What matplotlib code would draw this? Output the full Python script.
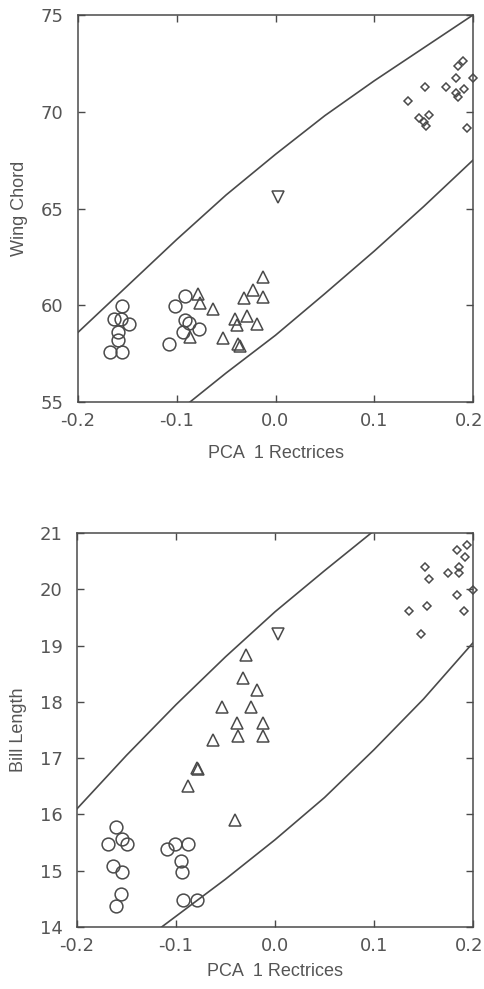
import matplotlib
matplotlib.use("Agg")
import matplotlib.pyplot as plt
from matplotlib.transforms import ScaledTranslation

plt.rcParams['font.family'] = ['Liberation Sans', 'DejaVu Sans']
plt.rcParams['axes.unicode_minus'] = False

# ---------------- data: top panel (Wing Chord) ----------------
top_circle_x = [-0.155, -0.1635, -0.156, -0.148, -0.159, -0.159, -0.1676, -0.155,
                -0.092, -0.1018, -0.0916, -0.0878, -0.0777, -0.094, -0.108]
top_circle_y = [59.98, 59.3, 59.3, 59.05, 58.6, 58.2, 57.57, 57.57,
                60.5, 59.98, 59.25, 59.07, 58.76, 58.6, 57.98]
top_tri_x = [-0.0788, -0.0765, -0.063, -0.0866, -0.0529, -0.041, -0.0387, -0.0377,
             -0.036, -0.0322, -0.0291, -0.0232, -0.0123, -0.0123, -0.0184]
top_tri_y = [60.57, 60.1, 59.8, 58.38, 58.33, 59.27, 58.98, 57.98,
             57.9, 60.38, 59.42, 60.78, 61.48, 60.44, 59.02]
top_inv_x = [0.0025]
top_inv_y = [65.6]
top_dia_x = [0.190, 0.1848, 0.183, 0.1998, 0.151, 0.173, 0.191, 0.1825,
             0.185, 0.1339, 0.1558, 0.1458, 0.1507, 0.1527, 0.1937]
top_dia_y = [72.6, 72.34, 71.77, 71.77, 71.28, 71.28, 71.17, 70.99,
             70.77, 70.58, 69.83, 69.66, 69.46, 69.27, 69.18]
top_upper_x = [-0.2, -0.15, -0.1, -0.05, 0.0, 0.05, 0.1, 0.15, 0.2]
top_upper_y = [58.6, 61.0, 63.4, 65.7, 67.8, 69.8, 71.6, 73.3, 75.0]
top_lower_x = [-0.0866, -0.05, 0.0, 0.05, 0.1, 0.15, 0.2]
top_lower_y = [55.0, 56.5, 58.45, 60.6, 62.8, 65.1, 67.5]

# ---------------- data: bottom panel (Bill Length) ----------------
bot_circle_x = [-0.1606, -0.1684, -0.155, -0.1491, -0.1635, -0.155, -0.1555, -0.1611,
                -0.1092, -0.1015, -0.0881, -0.0948, -0.0938, -0.0926, -0.0788]
bot_circle_y = [15.77, 15.48, 15.57, 15.47, 15.075, 14.975, 14.58, 14.375,
                15.38, 15.475, 15.475, 15.175, 14.975, 14.475, 14.475]
bot_tri_x = [-0.0293, -0.032, -0.0185, -0.0539, -0.0242, -0.0387, -0.0118, -0.0371,
             -0.0118, -0.063, -0.0785, -0.0775, -0.0876, -0.0404]
bot_tri_y = [18.83, 18.42, 18.21, 17.91, 17.91, 17.62, 17.62, 17.40,
             17.40, 17.32, 16.82, 16.80, 16.51, 15.90]
bot_inv_x = [0.0034]
bot_inv_y = [19.21]
bot_dia_x = [0.1943, 0.1835, 0.1919, 0.1862, 0.152, 0.1559, 0.1744, 0.1859,
             0.1997, 0.184, 0.1537, 0.1354, 0.191, 0.1471]
bot_dia_y = [20.79, 20.69, 20.58, 20.40, 20.40, 20.19, 20.29, 20.29,
             19.99, 19.90, 19.70, 19.61, 19.61, 19.21]
bot_upper_x = [-0.2, -0.15, -0.1, -0.05, 0.0, 0.05, 0.1]
bot_upper_y = [16.1, 17.05, 17.95, 18.8, 19.6, 20.33, 21.04]
bot_lower_x = [-0.1145, -0.05, 0.0, 0.05, 0.1, 0.15, 0.2]
bot_lower_y = [14.0, 14.85, 15.55, 16.3, 17.15, 18.05, 19.05]

x_ticks = [-0.2, -0.1, 0.0, 0.1, 0.2]
x_ticklabels = ['-0.2', '-0.1', '0.0', '0.1', '0.2']
top_yticks = [55, 60, 65, 70, 75]
bot_yticks = [14, 15, 16, 17, 18, 19, 20, 21]
x_label = 'PCA  1 Rectrices'
top_ylabel = 'Wing Chord'
bot_ylabel = 'Bill Length'

INK = '#4a4a4a'
TXT = '#555555'

fig = plt.figure(figsize=(4.85, 9.89), dpi=100)
ax1 = fig.add_axes([78/485, 1-402/989, (473-78)/485, (402-15)/989])
ax2 = fig.add_axes([77/485, 1-927/989, (473-77)/485, (927-533)/989])


def style(ax, yticks, ylim, ylabel, xlabelpad):
    ax.set_xlim(-0.2, 0.2)
    ax.set_ylim(*ylim)
    ax.set_xticks(x_ticks)
    ax.set_xticklabels(x_ticklabels, family='DejaVu Sans')
    ax.set_yticks(yticks)
    ax.set_yticklabels([str(v) for v in yticks], family='DejaVu Sans')
    ax.tick_params(direction='in', length=5, width=1.0, color=INK,
                   top=True, right=True, labelsize=13, labelcolor=TXT)
    ax.tick_params(axis='x', pad=7)
    ax.tick_params(axis='y', pad=10.5)
    for s in ax.spines.values():
        s.set_color(INK)
        s.set_linewidth(1.1)
    ax.set_xlabel(x_label, fontsize=13, color=TXT, labelpad=xlabelpad)
    ax.set_ylabel(ylabel, fontsize=13, color=TXT, labelpad=9)
    # keep the right-most x label inside the figure edge
    last = ax.xaxis.get_major_ticks()[-1].label1
    last.set_transform(last.get_transform() +
                       ScaledTranslation(-4/100, 0, fig.dpi_scale_trans))


def draw(ax, cx, cy, tx, ty, ix, iy, dx, dy, ux, uy, lx, ly):
    ax.plot(ux, uy, color=INK, lw=1.2)
    ax.plot(lx, ly, color=INK, lw=1.2)
    kw = dict(linestyle='none', markerfacecolor='none', markeredgecolor=INK,
              markeredgewidth=1.1)
    ax.plot(cx, cy, marker='o', markersize=9.2, **kw)
    ax.plot(tx, ty, marker='^', markersize=8.8, **kw)
    ax.plot(ix, iy, marker='v', markersize=8.8, **kw)
    ax.plot(dx, dy, marker='D', markersize=4.3, clip_on=False, **kw)


draw(ax1, top_circle_x, top_circle_y, top_tri_x, top_tri_y, top_inv_x, top_inv_y,
     top_dia_x, top_dia_y, top_upper_x, top_upper_y, top_lower_x, top_lower_y)
style(ax1, top_yticks, (55, 75), top_ylabel, 11)

draw(ax2, bot_circle_x, bot_circle_y, bot_tri_x, bot_tri_y, bot_inv_x, bot_inv_y,
     bot_dia_x, bot_dia_y, bot_upper_x, bot_upper_y, bot_lower_x, bot_lower_y)
style(ax2, bot_yticks, (14, 21), bot_ylabel, 6)

fig.savefig('out.png', dpi=100, facecolor='white')
